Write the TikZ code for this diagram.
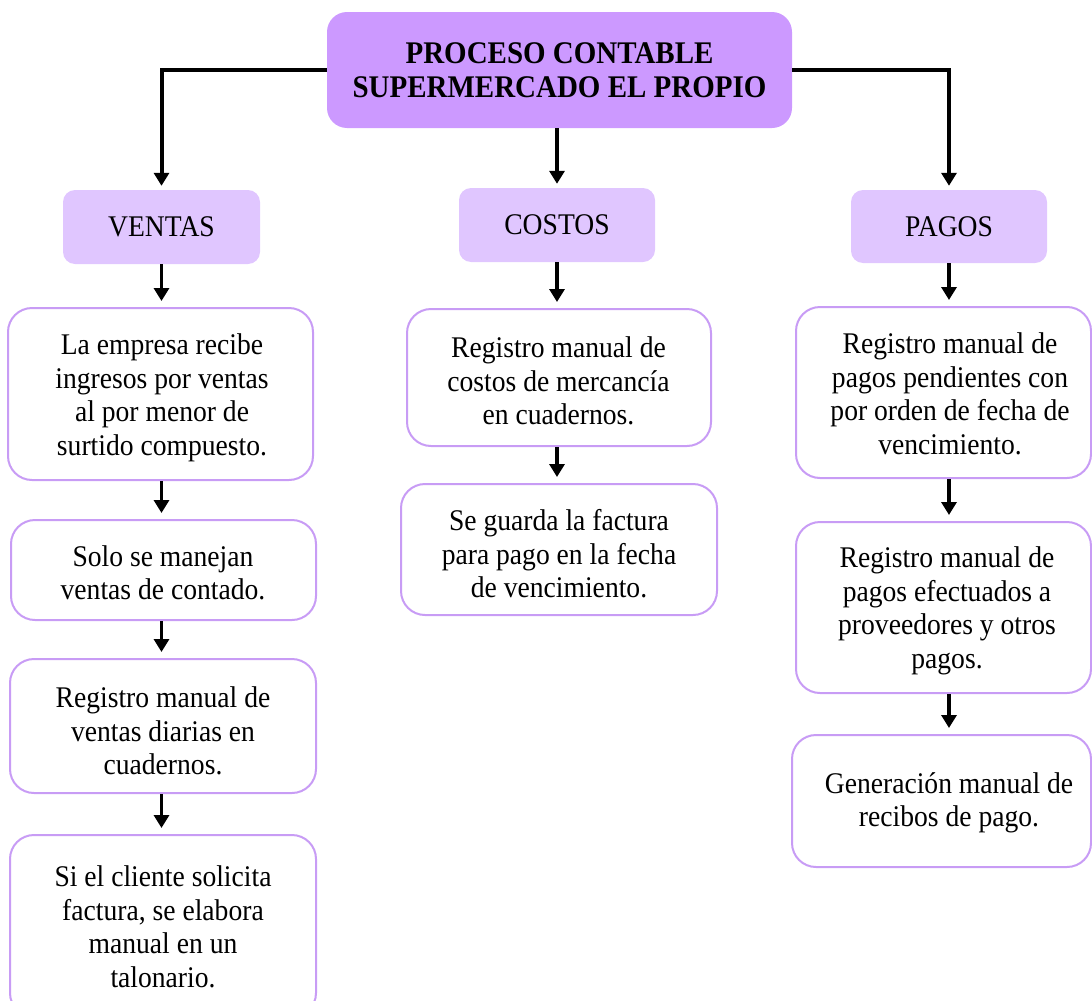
\documentclass[tikz,border=0pt]{standalone}
\usepackage{fontspec}
\setmainfont{Liberation Serif}[FakeStretch=0.92]
\usetikzlibrary{arrows.meta}
\definecolor{topfill}{HTML}{CC99FF}
\definecolor{catfill}{HTML}{E0C6FF}
\definecolor{boxline}{HTML}{C89CF5}
\tikzset{
 topbox/.style={fill=topfill, rounded corners=20pt, inner sep=0pt, align=center, font=\fontsize{31.5pt}{34pt}\selectfont\bfseries},
 catbox/.style={fill=catfill, rounded corners=12pt, inner sep=0pt, font=\fontsize{30pt}{33.5pt}\selectfont},
 txtbox/.style={draw=boxline, line width=2pt, fill=white, rounded corners=24pt, inner sep=0pt},
 txt/.style={align=center, inner sep=0pt, font=\fontsize{30pt}{33.5pt}\selectfont},
 toparrow/.style={line width=4pt, -{Triangle[width=15pt,length=13pt]}, shorten >=4pt},
 arr/.style={line width=3.5pt, -{Triangle[width=15pt,length=13pt]}, shorten >=6pt},
}
\begin{document}
\begin{tikzpicture}[x=1pt,y=-1pt]
\useasboundingbox (0,0) rectangle (1092,1001);
% top
\node[topbox, minimum width=465pt, minimum height=116pt] (top) at (559.5,70) {PROCESO CONTABLE\\SUPERMERCADO EL PROPIO};
% categories
\node[catbox, minimum width=197pt, minimum height=74pt] (ventas) at (161.5,227) {VENTAS};
\node[catbox, minimum width=196pt, minimum height=74pt] (costos) at (557,225) {COSTOS};
\node[catbox, minimum width=196pt, minimum height=73pt] (pagos) at (949,226.5) {PAGOS};
% left column boxes
\node[txtbox, minimum width=305pt, minimum height=172pt] (v1) at (160.5,394) {};
\node[txtbox, minimum width=305pt, minimum height=100pt] (v2) at (163.5,570) {};
\node[txtbox, minimum width=306pt, minimum height=134pt] (v3) at (163,726) {};
\node[txtbox, minimum width=306pt, minimum height=182pt] (v4) at (163,926) {};
% middle column boxes
\node[txtbox, minimum width=304pt, minimum height=137pt] (c1) at (559,377.5) {};
\node[txtbox, minimum width=316pt, minimum height=131pt] (c2) at (559,549.5) {};
% right column boxes
\node[txtbox, minimum width=295pt, minimum height=171pt] (p1) at (943.5,392.5) {};
\node[txtbox, minimum width=295pt, minimum height=171pt] (p2) at (943.5,607.5) {};
\node[txtbox, minimum width=299pt, minimum height=132pt] (p3) at (941.5,801) {};
% texts
\node[txt] (v1t) at (162,398) {La empresa recibe\\ingresos por ventas\\al por menor de\\surtido compuesto.};
\node[txt] (v2t) at (163,573) {Solo se manejan\\ventas de contado.};
\node[txt] (v3t) at (163,731) {Registro manual de\\ventas diarias en\\cuadernos.};
\node[txt] (v4t) at (163,927) {Si el cliente solicita\\factura, se elabora\\manual en un\\talonario.};
\node[txt] (c1t) at (558.5,381) {Registro manual de\\costos de mercancía\\en cuadernos.};
\node[txt] (c2t) at (559,554) {Se guarda la factura\\para pago en la fecha\\de vencimiento.};
\node[txt] (p1t) at (950,394) {Registro manual de\\pagos pendientes con\\por orden de fecha de\\vencimiento.};
\node[txt] (p2t) at (947,611) {Registro manual de\\pagos efectuados a\\proveedores y otros\\pagos.};
\node[txt] (p3t) at (949,803) {Generación manual de\\recibos de pago.};
% connectors from top
\draw[toparrow] (top.west) -| (ventas.north);
\draw[toparrow] (top.east) -| (pagos.north);
\draw[toparrow] (top.south -| costos.north) -- (costos.north);
% column connectors
\draw[arr] (ventas.south) -- (ventas.south |- v1.north);
\draw[arr] (v1.south -| ventas.south) -- (ventas.south |- v2.north);
\draw[arr] (v2.south -| ventas.south) -- (ventas.south |- v3.north);
\draw[arr] (v3.south -| ventas.south) -- (ventas.south |- v4.north);
\draw[arr] (costos.south) -- (costos.south |- c1.north);
\draw[arr] (c1.south -| costos.south) -- (costos.south |- c2.north);
\draw[arr] (pagos.south) -- (pagos.south |- p1.north);
\draw[arr] (p1.south -| pagos.south) -- (pagos.south |- p2.north);
\draw[arr] (p2.south -| pagos.south) -- (pagos.south |- p3.north);
\end{tikzpicture}
\end{document}
